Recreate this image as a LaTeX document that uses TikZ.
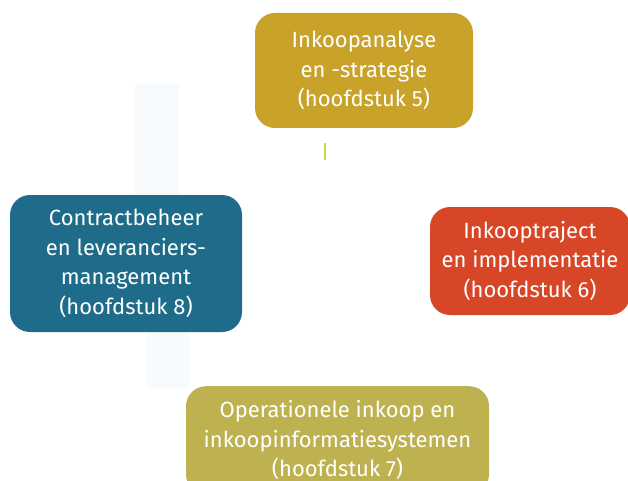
\documentclass[tikz,border=0pt]{standalone}
\usepackage{fontspec}
\setmainfont{Fira Sans}
\usetikzlibrary{positioning}
\definecolor{goud}{RGB}{201,162,42}
\definecolor{petrol}{RGB}{30,108,138}
\definecolor{oranjerood}{RGB}{216,70,40}
\definecolor{olijf}{RGB}{190,178,80}
\definecolor{spook}{RGB}{248,251,253}
\definecolor{geelgroen}{RGB}{200,215,60}

\begin{document}
\begin{tikzpicture}[x=1pt, y=-1pt,
    font=\fontsize{22}{29.5}\selectfont,
    fase/.style={rounded corners=20pt, align=center, text=white, inner sep=0pt},
    spoor/.style={draw=spook, line width=44pt}]
    \useasboundingbox (0,0) rectangle (628,481);

    % ronde pijl op de achtergrond (nauwelijks zichtbaar)
    \coordinate (s1) at (157,84);
    \coordinate (s2) at (168,388);
    \draw[spoor] (157,196) -- (s1);
    \draw[spoor] (168,330) -- (s2);

    \node[fase, fill=goud, minimum width=218pt, minimum height=115pt] (analyse) at (364,70.5)
        {Inkoopanalyse\\en -strategie\\(hoofdstuk 5)};
    \node[fase, fill=oranjerood, minimum width=200pt, minimum height=108pt] (traject) at (530,261)
        {Inkooptraject\\en implementatie\\(hoofdstuk 6)};
    \node[fase, fill=olijf, minimum width=303pt, minimum height=108pt, anchor=north] (operationeel) at (337.5,386)
        {Operationele inkoop en\\inkoopinformatiesystemen\\(hoofdstuk 7)};
    \node[fase, fill=petrol, minimum width=232pt, minimum height=137pt] (contract) at (126,263.5)
        {Contractbeheer\\en leveranciers-\\management\\(hoofdstuk 8)};

    \draw[geelgroen, line width=2pt] ([xshift=-39pt, yshift=-15pt]analyse.south) -- ++(0,17);
\end{tikzpicture}
\end{document}
